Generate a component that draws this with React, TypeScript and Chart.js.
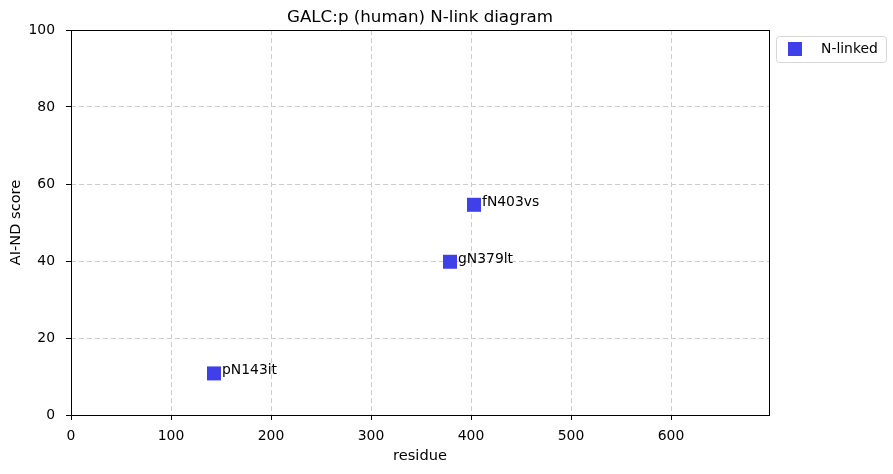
import React, { useEffect, useRef } from "react";
import { Chart, registerables } from "chart.js";

Chart.register(...registerables);

const chartTitle = "GALC:p (human) N-link diagram";
const seriesName = "N-linked";
const siteLabels = ["pN143it", "gN379lt", "fN403vs"];
const residues = [143, 379, 403];
const scores = [10.8, 39.8, 54.6];
const xTicks = [0, 100, 200, 300, 400, 500, 600];
const yTicks = [0, 20, 40, 60, 80, 100];
const xMax = 698;

const BLUE = "rgb(64,64,232)";
const FONT = "'DejaVu Sans', sans-serif";

const overlay = {
  id: "overlay",
  afterDatasetsDraw(chart: any) {
    const { ctx, chartArea } = chart;
    const left = Math.round(chartArea.left);
    const right = Math.round(chartArea.right);
    const top = Math.round(chartArea.top);
    const bottom = Math.round(chartArea.bottom);
    ctx.save();
    // frame
    ctx.strokeStyle = "#000";
    ctx.lineWidth = 1;
    ctx.setLineDash([]);
    ctx.strokeRect(left + 0.5, top + 0.5, right - left, bottom - top);
    // point labels
    const meta = chart.getDatasetMeta(0);
    ctx.fillStyle = "#000";
    ctx.font = `13.9px ${FONT}`;
    ctx.textAlign = "left";
    ctx.textBaseline = "alphabetic";
    meta.data.forEach((pt: any, i: number) => {
      ctx.fillText(siteLabels[i], pt.x + 8, pt.y + 1);
    });
    // title
    ctx.font = `16.7px ${FONT}`;
    ctx.textAlign = "center";
    ctx.textBaseline = "alphabetic";
    ctx.fillText(chartTitle, (left + right) / 2, 22);
    // legend
    const lx = right + 7;
    const ly = 36;
    const lw = 110;
    const lh = 26;
    ctx.beginPath();
    ctx.roundRect(lx + 0.5, ly + 0.5, lw, lh, 3);
    ctx.fillStyle = "rgba(255,255,255,0.8)";
    ctx.fill();
    ctx.strokeStyle = "#d6d6d6";
    ctx.stroke();
    ctx.fillStyle = BLUE;
    ctx.fillRect(lx + 12, ly + 6, 14, 14);
    ctx.fillStyle = "#000";
    ctx.font = `13.9px ${FONT}`;
    ctx.textAlign = "left";
    ctx.textBaseline = "middle";
    ctx.fillText(seriesName, lx + 45, ly + 13.5);
    ctx.restore();
  },
};

export default function App() {
  const ref = useRef<HTMLCanvasElement>(null);
  useEffect(() => {
    if (!ref.current) return;
    const chart = new Chart(ref.current, {
      type: "scatter",
      data: {
        datasets: [
          {
            label: seriesName,
            data: residues.map((r, i) => ({ x: r, y: scores[i] })),
            backgroundColor: BLUE,
            borderWidth: 0,
            pointStyle: "rect",
            pointRadius: 9.9,
            pointHoverRadius: 9.9,
          },
        ],
      },
      plugins: [overlay],
      options: {
        responsive: false,
        animation: false,
        events: [],
        layout: { padding: { top: 30, right: 124, left: 0, bottom: 0 } },
        plugins: { legend: { display: false }, title: { display: false }, tooltip: { enabled: false } },
        scales: {
          x: {
            type: "linear",
            min: 0,
            max: xMax,
            afterFit: (s: any) => { s.height = 59; },
            afterBuildTicks: (s: any) => { s.ticks = xTicks.map((v) => ({ value: v })); },
            ticks: { color: "#000", font: { family: FONT, size: 13.9 }, padding: 8 },
            grid: { color: "#cccccc", lineWidth: 1, tickLength: 5, tickColor: "#000", tickWidth: 1 },
            border: { display: false, color: "#000", dash: [5, 3] },
            title: { display: true, text: "residue", color: "#000", font: { family: FONT, size: 14.6 }, padding: { top: 0, bottom: 9 } },
          },
          y: {
            type: "linear",
            min: 0,
            max: 100,
            afterFit: (s: any) => { s.width = 71; },
            afterBuildTicks: (s: any) => { s.ticks = yTicks.map((v) => ({ value: v })); },
            ticks: { color: "#000", font: { family: FONT, size: 13.9 }, padding: 11 },
            grid: { color: "#cccccc", lineWidth: 1, tickLength: 5, tickColor: "#000", tickWidth: 1 },
            border: { display: false, color: "#000", dash: [5, 3] },
            title: { display: true, text: "AI-ND score", color: "#000", font: { family: FONT, size: 14.6 }, padding: { top: 7, bottom: 0 } },
          },
        },
      },
    });
    return () => chart.destroy();
  }, []);
  return (
    <div style={{ position: "absolute", left: 0, top: 0, width: 893, height: 474, background: "#fff" }}>
      <canvas ref={ref} width={893} height={474} />
    </div>
  );
}
